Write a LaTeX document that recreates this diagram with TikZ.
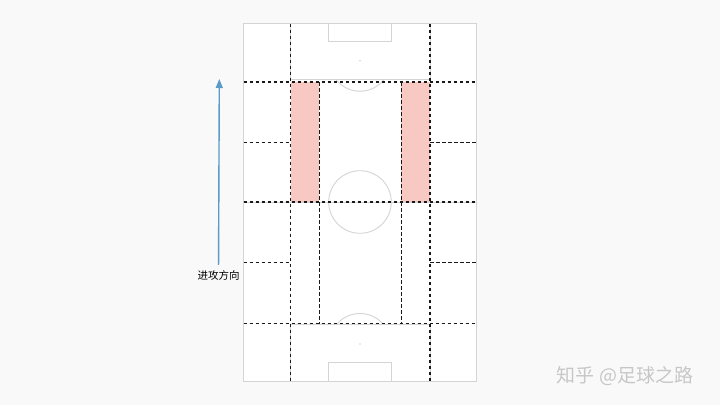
\documentclass[tikz,border=0pt]{standalone}
\usepackage{fontspec}
\newfontfamily\cjk{Noto Sans CJK SC}
\usetikzlibrary{positioning,arrows.meta}

\definecolor{pitchgrey}{HTML}{D4D4D4}
\definecolor{wingred}{HTML}{F7C9C2}
\definecolor{attackblue}{HTML}{5B9BC7}
\definecolor{paper}{HTML}{F9F9F9}

\tikzset{
	pitch/.style={draw=pitchgrey, line width=0.9pt},
	zone/.style={draw=black!90, line width=1.5pt, dash pattern=on 3.5pt off 2.5pt},
	wing/.style={fill=wingred},
	attack/.style={draw=attackblue, line width=1.4pt, -{Triangle[width=7pt,length=9pt]}},
	dirtext/.style={font=\cjk\fontsize{10.5}{12}\selectfont, text=black, inner sep=2pt},
	watermark/.style={font=\cjk\fontsize{19}{22}\selectfont, text=black!22},
}

\begin{document}
\begin{tikzpicture}[x=1pt,y=-1pt]
	\useasboundingbox (0,0) rectangle (720,405);
	\fill[paper] (0,0) rectangle (720,405);

	% pitch
	\fill[white] (243.5,23.5) rectangle (476.5,381.5);
	\fill[wing] (290.7,82) rectangle (319.3,202);
	\fill[wing] (401.3,82) rectangle (430,202);
	\draw[pitch] (243.5,23.5) rectangle (476.5,381.5);
	\draw[pitch] (243.5,202) -- (476.5,202);
	\draw[pitch] (360,202) circle (31.3);
	\draw[pitch] (290.7,23.5) rectangle (430,79);
	\draw[pitch] (328.3,23.5) rectangle (391.3,41.7);
	\draw[pitch] (290.7,381.5) rectangle (430,324.7);
	\draw[pitch] (328.3,381.5) rectangle (391.3,362.3);
	\fill[pitchgrey] (360,60.7) circle (0.9) (360,344) circle (0.9);
	\begin{scope}
		\clip (290,79) rectangle (430,100);
		\draw[pitch] (360,60.7) circle (30.5);
	\end{scope}
	\begin{scope}
		\clip (290,300) rectangle (430,324.7);
		\draw[pitch] (360,344) circle (30.5);
	\end{scope}

	% zones
	\foreach \y in {82,202,323.5}
		\draw[zone] (243.5,\y) -- (476.5,\y);
	\foreach \x in {290.7,430}
		\draw[zone] (\x,23.5) -- (\x,381.5);
	\foreach \x in {319.3,401.3}
		\draw[zone] (\x,82) -- (\x,323.5);
	\foreach \y in {142.5,262.3} {
		\draw[zone] (243.5,\y) -- (290.7,\y);
		\draw[zone] (430,\y) -- (476.5,\y);
	}

	% direction of attack
	\node[dirtext] (dirlabel) at (218.5,275) {进攻方向};
	\coordinate (arrowhead) at (219.3,79);
	\draw[attack, shorten <=3pt] (dirlabel) -- (arrowhead);

	\node[watermark] (mark) at (625,376) {知乎 @足球之路};
\end{tikzpicture}
\end{document}
